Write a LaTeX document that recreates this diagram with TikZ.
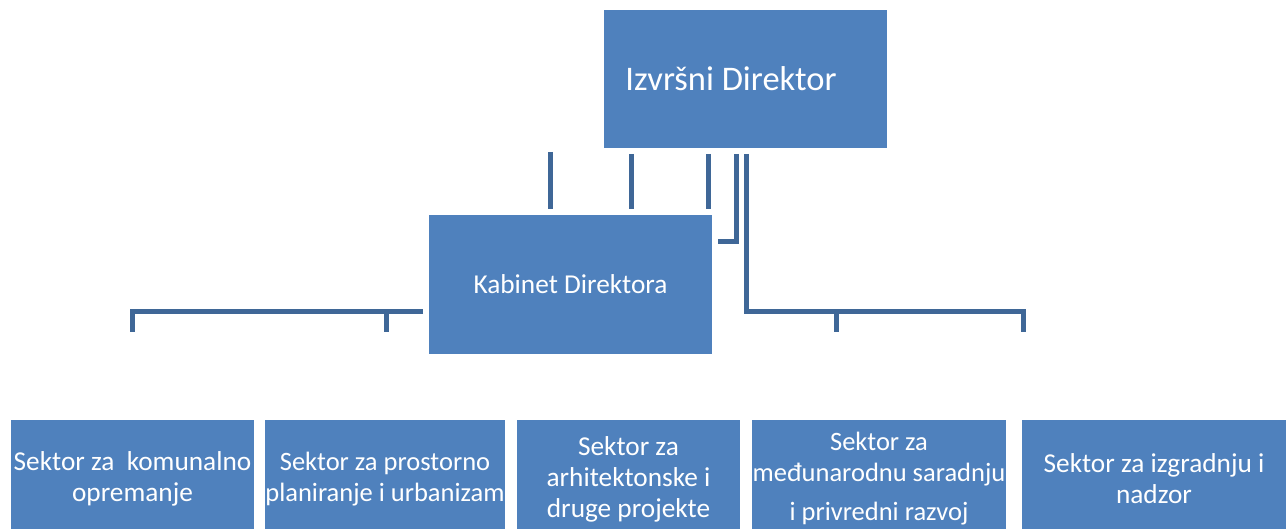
\documentclass[tikz,border=0pt]{standalone}
\usepackage{fontspec}
\setmainfont{Carlito}
\usetikzlibrary{calc}
\definecolor{boxblue}{HTML}{4F81BD}
\definecolor{lineblue}{HTML}{3F6797}
\begin{document}
\begin{tikzpicture}[x=1pt,y=-1pt,
  box/.style={fill=boxblue, draw=none, text=white, inner sep=0pt, align=center},
  bigtext/.style={font=\fontsize{34.5}{41}\selectfont},
  midtext/.style={font=\fontsize{27.3}{31}\selectfont},
  tighttext/.style={font=\fontsize{26.5}{31}\selectfont},
  conn/.style={draw=lineblue, line width=5pt, line join=miter}]
\useasboundingbox (0,0) rectangle (1286,529);
% top
\node[box, minimum width=283pt, minimum height=138pt] (dir) at (745.5,79) {};
\node[text=white, bigtext, inner sep=0pt] (dirtext) at (731,79) {Izvršni Direktor};
\node[box, midtext, minimum width=283pt, minimum height=139pt] (kab) at (570.5,284.5) {Kabinet Direktora};
% bottom boxes (extend below the page edge, which cuts them)
\node[box, midtext, minimum width=243pt, minimum height=118pt] (s1) at (132.5,479) {Sektor za\ \ komunalno\\opremanje};
\node[box, tighttext, minimum width=240pt, minimum height=118pt] (s2) at (385,479) {Sektor za prostorno\\planiranje i urbanizam};
\node[box, midtext, minimum width=223pt, minimum height=118pt] (s3) at (628.5,479) {Sektor za\\arhitektonske i\\druge projekte};
\node[box, tighttext, minimum width=254pt, minimum height=118pt] (s4) at (879,479) {Sektor za\\međunarodnu saradnju\\[8pt]i privredni razvoj};
\node[box, midtext, minimum width=264pt, minimum height=118pt] (s5) at (1154,479) {Sektor za izgradnju i\\nadzor};
% connector coordinates
\coordinate (a1) at (550,152); \coordinate (a2) at (550,209);
\coordinate (b1) at (631,154); \coordinate (b2) at (631,209);
\coordinate (c1) at (708,154); \coordinate (c2) at (708,209);
\coordinate (d1) at (736,154); \coordinate (d2) at (736,242); \coordinate (d3) at (718,242);
\coordinate (e1) at (746,154); \coordinate (e2) at (746,312); \coordinate (e3) at (1023,312); \coordinate (e4) at (1023,332);
\coordinate (f1) at (836,312); \coordinate (f2) at (836,332);
\coordinate (g1) at (423,312); \coordinate (g2) at (132,312); \coordinate (g3) at (132,332);
\coordinate (h1) at (386,312); \coordinate (h2) at (386,332);
\draw[conn] (a1) -- (a2);
\draw[conn] (b1) -- (b2);
\draw[conn] (c1) -- (c2);
\draw[conn] (d1) -- (d2) -- (d3);
\draw[conn] (e1) -- (e2) -- (e3) -- (e4);
\draw[conn] (f1) -- (f2);
\draw[conn] (g1) -- (g2) -- (g3);
\draw[conn] (h1) -- (h2);
\end{tikzpicture}
\end{document}
